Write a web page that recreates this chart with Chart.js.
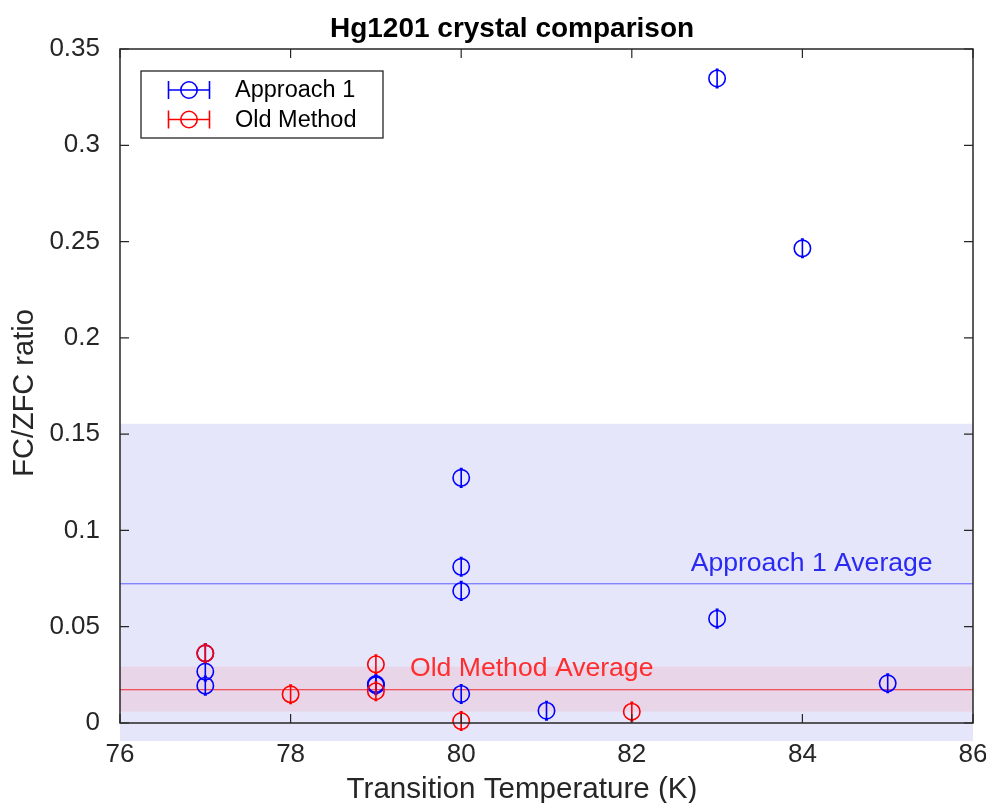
<!DOCTYPE html>
<html>
<head>
<meta charset="utf-8">
<script src="https://cdn.jsdelivr.net/npm/chart.js@4.4.1/dist/chart.umd.min.js"></script>
<style>
  html, body { margin: 0; padding: 0; background: #fff; }
  #wrap { width: 986px; height: 803px; }
</style>
</head>
<body>
<div id="wrap"><canvas id="chart" width="986" height="803"></canvas></div>
<script>
// Approach 1 measurements
const approachT = [77, 77, 77, 79, 79, 80, 80, 80, 80, 81, 83, 83, 84, 85];
const approachRatio = [0.0362, 0.0267, 0.0194, 0.0196, 0.0202, 0.1273, 0.0811, 0.0686, 0.0151, 0.0064, 0.0542, 0.3347, 0.2465, 0.0206];
const approachErr = [0.0048, 0.0048, 0.0048, 0.0048, 0.0048, 0.0048, 0.0048, 0.0048, 0.0048, 0.0048, 0.0048, 0.0048, 0.0048, 0.0048];

// Old method measurements
const oldT = [77, 78, 79, 79, 80, 82];
const oldRatio = [0.0362, 0.0149, 0.0305, 0.0165, 0.0010, 0.0059];
const oldErr = [0.0048, 0.0048, 0.0048, 0.0048, 0.0048, 0.0048];

// averages and spread bands [low, high]
const approachAvg = 0.0729;
const approachBand = [-0.0094, 0.1554];
const oldAvg = 0.0175;
const oldBand = [0.0059, 0.0293];

const xTicks = [76, 78, 80, 82, 84, 86];
const yTicks = [0, 0.05, 0.1, 0.15, 0.2, 0.25, 0.3, 0.35];

const BLUE = '#0000ff';
const RED = '#ff0000';
const AXIS = '#262626';
const FONT = '"Liberation Sans", Arial, Helvetica, sans-serif';

function pts(xs, ys) {
    return xs.map((x, i) => ({x: x, y: ys[i]}));
}

const decor = {
    id: 'decor',
    beforeDatasetsDraw(chart) {
        const ctx = chart.ctx, xs = chart.scales.x, ys = chart.scales.y;
        const x0 = xs.getPixelForValue(xs.min), x1 = xs.getPixelForValue(xs.max);
        ctx.save();
        // bands
        let t = ys.getPixelForValue(approachBand[1]), b = ys.getPixelForValue(approachBand[0]);
        ctx.fillStyle = 'rgb(230,230,251)';
        ctx.fillRect(x0, t, x1 - x0, b - t);
        t = ys.getPixelForValue(oldBand[1]);
        b = ys.getPixelForValue(oldBand[0]);
        ctx.fillStyle = 'rgb(233,213,232)';
        ctx.fillRect(x0, t, x1 - x0, b - t);
        // average lines
        let y = Math.round(ys.getPixelForValue(approachAvg));
        ctx.fillStyle = '#8484ff';
        ctx.fillRect(x0, y, x1 - x0, 1.4);
        y = Math.round(ys.getPixelForValue(oldAvg));
        ctx.fillStyle = '#f0505a';
        ctx.fillRect(x0, y, x1 - x0, 1.3);
        // average labels
        ctx.font = '26.6px ' + FONT;
        ctx.textAlign = 'left';
        ctx.textBaseline = 'alphabetic';
        ctx.fillStyle = '#2a2af2';
        ctx.fillText('Approach 1 Average', xs.getPixelForValue(82.69), ys.getPixelForValue(0.0791));
        ctx.fillStyle = '#ff2e2e';
        ctx.fillText('Old Method Average', xs.getPixelForValue(79.40), ys.getPixelForValue(0.0244));
        ctx.restore();
    },
    afterDatasetsDraw(chart) {
        // vertical error bars
        const ctx = chart.ctx, xs = chart.scales.x, ys = chart.scales.y;
        ctx.save();
        ctx.lineWidth = 1.6;
        const sets = [[approachT, approachRatio, approachErr, BLUE], [oldT, oldRatio, oldErr, RED]];
        sets.forEach(function (s) {
            ctx.strokeStyle = s[3];
            s[0].forEach(function (tx, i) {
                const px = xs.getPixelForValue(tx);
                const top = ys.getPixelForValue(s[1][i] + s[2][i]);
                const bot = ys.getPixelForValue(s[1][i] - s[2][i]);
                ctx.beginPath();
                ctx.moveTo(px, top); ctx.lineTo(px, bot);
                ctx.moveTo(px - 1.5, top); ctx.lineTo(px + 1.5, top);
                ctx.moveTo(px - 1.5, bot); ctx.lineTo(px + 1.5, bot);
                ctx.stroke();
            });
        });
        ctx.restore();
    },
    afterDraw(chart) {
        const ctx = chart.ctx, xs = chart.scales.x, ys = chart.scales.y;
        const a = chart.chartArea;
        ctx.save();
        // box and inward ticks
        ctx.strokeStyle = AXIS;
        ctx.lineWidth = 1.5;
        ctx.strokeRect(a.left, a.top, a.right - a.left, a.bottom - a.top);
        ctx.lineWidth = 1.2;
        ctx.beginPath();
        xTicks.forEach(function (v) {
            const px = xs.getPixelForValue(v);
            ctx.moveTo(px, a.bottom); ctx.lineTo(px, a.bottom - 9);
            ctx.moveTo(px, a.top); ctx.lineTo(px, a.top + 9);
        });
        yTicks.forEach(function (v) {
            const py = ys.getPixelForValue(v);
            ctx.moveTo(a.left, py); ctx.lineTo(a.left + 9, py);
            ctx.moveTo(a.right, py); ctx.lineTo(a.right - 9, py);
        });
        ctx.stroke();

        // titles
        ctx.fillStyle = '#000';
        ctx.textAlign = 'center';
        ctx.textBaseline = 'alphabetic';
        ctx.font = 'bold 28px ' + FONT;
        ctx.fillText('Hg1201 crystal comparison', 512, 37);
        ctx.fillStyle = AXIS;
        ctx.font = '29.6px ' + FONT;
        ctx.fillText('Transition Temperature (K)', 522, 798);
        ctx.font = '29px ' + FONT;
        ctx.save();
        ctx.translate(33, 393);
        ctx.rotate(-Math.PI / 2);
        ctx.fillText('FC/ZFC ratio', 0, 0);
        ctx.restore();

        // legend
        const lx = 141, ly = 71, lw = 242, lh = 67;
        ctx.fillStyle = '#fff';
        ctx.fillRect(lx, ly, lw, lh);
        ctx.strokeStyle = AXIS;
        ctx.lineWidth = 1.3;
        ctx.strokeRect(lx, ly, lw, lh);
        const rows = [['Approach 1', BLUE, 90], ['Old Method', RED, 119.5]];
        rows.forEach(function (r) {
            const cy = r[2];
            ctx.strokeStyle = r[1];
            ctx.lineWidth = 1.6;
            ctx.beginPath();
            ctx.moveTo(168.5, cy); ctx.lineTo(209.5, cy);
            ctx.moveTo(168.5, cy - 9); ctx.lineTo(168.5, cy + 9);
            ctx.moveTo(209.5, cy - 9); ctx.lineTo(209.5, cy + 9);
            ctx.stroke();
            ctx.beginPath();
            ctx.arc(189, cy, 8.2, 0, Math.PI * 2);
            ctx.stroke();
            ctx.fillStyle = '#000';
            ctx.font = '23.5px ' + FONT;
            ctx.textAlign = 'left';
            ctx.textBaseline = 'middle';
            ctx.fillText(r[0], 235, cy + 1);
        });
        ctx.restore();
    }
};

new Chart(document.getElementById('chart').getContext('2d'), {
    type: 'scatter',
    data: {
        datasets: [
            {
                label: 'Old Method',
                data: pts(oldT, oldRatio),
                borderColor: RED,
                backgroundColor: 'rgba(0,0,0,0)',
                pointRadius: 8.2,
                pointBorderWidth: 1.6,
                clip: false,
                order: 0
            },
            {
                label: 'Approach 1',
                data: pts(approachT, approachRatio),
                borderColor: BLUE,
                backgroundColor: 'rgba(0,0,0,0)',
                pointRadius: 8.2,
                pointBorderWidth: 1.6,
                clip: false,
                order: 1
            }
        ]
    },
    options: {
        responsive: false,
        animation: false,
        devicePixelRatio: 1,
        layout: {padding: {top: 49, right: 13, left: 0, bottom: 0}},
        plugins: {legend: {display: false}, tooltip: {enabled: false}, title: {display: false}},
        scales: {
            x: {
                type: 'linear',
                min: 76,
                max: 86,
                afterFit: function (s) {
                    s.height = 80;
                    s.paddingLeft = 0;
                    s.paddingRight = 0;
                },
                afterBuildTicks: function (s) { s.ticks = xTicks.map(v => ({value: v})); },
                grid: {display: false, drawTicks: false},
                border: {display: false},
                ticks: {
                    color: AXIS,
                    padding: 16,
                    maxRotation: 0,
                    font: {family: FONT, size: 26}
                }
            },
            y: {
                type: 'linear',
                min: 0,
                max: 0.35,
                afterFit: function (s) {
                    s.width = 120;
                    s.paddingTop = 0;
                    s.paddingBottom = 0;
                },
                afterBuildTicks: function (s) { s.ticks = yTicks.map(v => ({value: v})); },
                grid: {display: false, drawTicks: false},
                border: {display: false},
                ticks: {
                    color: AXIS,
                    padding: 20,
                    font: {family: FONT, size: 26},
                    callback: function (v) { return String(+v.toFixed(2)); }
                }
            }
        }
    },
    plugins: [decor]
});
</script>
</body>
</html>
